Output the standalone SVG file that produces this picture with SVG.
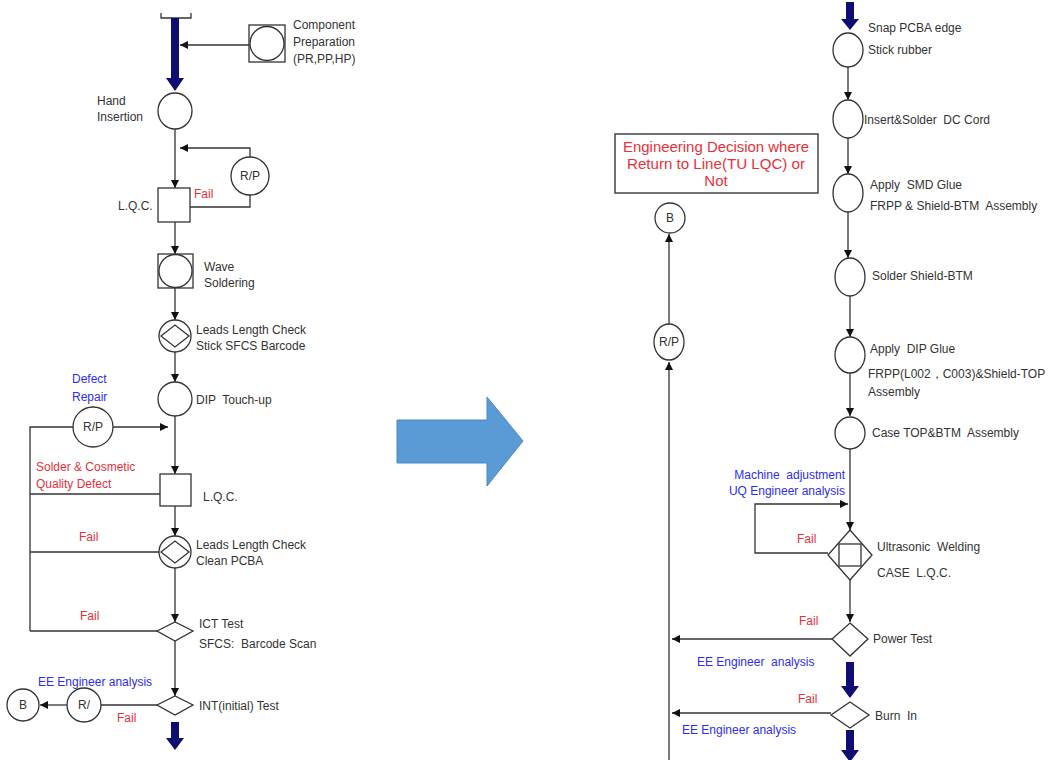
<svg xmlns="http://www.w3.org/2000/svg" width="1057" height="760" viewBox="0 0 1057 760">
<defs>
<marker id="ah" viewBox="0 0 10 10" refX="10" refY="5" markerWidth="8" markerHeight="8" markerUnits="userSpaceOnUse" orient="auto">
<path d="M0,0 L10,5 L0,10 z" fill="#111"/>
</marker>
</defs>
<style>
.s{fill:#fff;stroke:#333;stroke-width:1.3}
.c{fill:none;stroke:#333;stroke-width:1.3}
.a{fill:none;stroke:#333;stroke-width:1.3;marker-end:url(#ah)}
.t{font-family:"Liberation Sans",Arial,sans-serif;font-size:12px;fill:#333;white-space:pre}
.r{font-family:"Liberation Sans",Arial,sans-serif;font-size:12px;fill:#e8303a;white-space:pre}
.b{font-family:"Liberation Sans",Arial,sans-serif;font-size:12px;fill:#2d2df0;white-space:pre}
.d{font-family:"Liberation Sans",Arial,sans-serif;font-size:15px;fill:#e8303a}
.big{fill:#0d0d72}
</style>
<rect width="1057" height="760" fill="#fff"/>

<g id="connectors">
<path class="c" d="M161,13 V18 H191 V13"/>
<path class="a" d="M249,45 H180"/>
<path class="a" d="M175,129 V188"/>
<path class="a" d="M250,157 V148 H180"/>
<path class="c" d="M190,207 H250 V195"/>
<path class="a" d="M175,222 V254"/>
<path class="a" d="M175,288 V320"/>
<path class="a" d="M175,352 V382"/>
<path class="c" d="M30,631 V427 H73"/>
<path class="a" d="M113,427 H168"/>
<path class="a" d="M175,416 V474"/>
<path class="c" d="M160,494 H30"/>
<path class="a" d="M175,506 V536"/>
<path class="c" d="M159,552 H30"/>
<path class="a" d="M175,568 V622"/>
<path class="c" d="M157,631 H30"/>
<path class="a" d="M175,641 V696"/>
<path class="c" d="M157,705 H101"/>
<path class="a" d="M67,705 H40"/>

<path class="a" d="M848,67 V100"/>
<path class="a" d="M848,138 V174"/>
<path class="a" d="M848,212 V258"/>
<path class="a" d="M850,296 V337"/>
<path class="a" d="M850,373 V416"/>
<path class="a" d="M850,449 V530"/>
<path class="a" d="M828,553 H755 V504 H848"/>
<path class="a" d="M850,580 V622"/>
<path class="a" d="M832,639 H672"/>
<path class="a" d="M831,713 H672"/>
<path class="a" d="M669,760 V362"/>
<path class="a" d="M669,324 V234"/>

<path class="big" d="M171,18 H179 V78 H184 L175,91 L166,78 H171 z"/>
<path class="big" d="M171,722 H179 V738 H184 L175,750 L166,738 H171 z"/>
<path class="big" d="M846,2 H854 V19 H859 L850,30 L841,19 H846 z"/>
<path class="big" d="M846,662 H854 V686 H859 L850,698 L841,686 H846 z"/>
<path class="big" d="M846,730 H854 V750 H859 L850,762 L841,750 H846 z"/>
</g>

<g id="big-arrow">
<path d="M397,420 H487 V397 L523,441 L487,486 V463 H397 z" fill="#5b9bd5" stroke="#4a89c4" stroke-width="1"/>
</g>

<g id="component-prep">
<rect class="s" x="249" y="25" width="36" height="37"/>
<circle class="s" cx="267" cy="43.5" r="17"/>
<text class="t" x="293" y="29">Component</text>
<text class="t" x="293" y="46">Preparation</text>
<text class="t" x="293" y="63">(PR,PP,HP)</text>
</g>

<g id="hand-insertion">
<ellipse class="s" cx="175" cy="111" rx="17" ry="18"/>
<text class="t" x="97" y="105">Hand</text>
<text class="t" x="97" y="121">Insertion</text>
</g>

<g id="rp1">
<circle class="s" cx="250" cy="176" r="19"/>
<text class="t" x="250" y="180" text-anchor="middle">R/P</text>
</g>

<g id="lqc1">
<rect class="s" x="158" y="188" width="32" height="34"/>
<text class="t" x="118" y="210">L.Q.C.</text>
<text class="r" x="194" y="198">Fail</text>
</g>

<g id="wave">
<rect class="s" x="158" y="254" width="35" height="34"/>
<circle class="s" cx="175.5" cy="271" r="16.5"/>
<text class="t" x="204" y="271">Wave</text>
<text class="t" x="204" y="287">Soldering</text>
</g>

<g id="leads1">
<circle class="s" cx="175" cy="336" r="16"/>
<path class="c" d="M161,336 L175,325 L189,336 L175,347 z"/>
<text class="t" x="196" y="334">Leads Length Check</text>
<text class="t" x="196" y="350">Stick SFCS Barcode</text>
</g>

<g id="dip">
<circle class="s" cx="175" cy="399" r="17"/>
<text class="t" x="196" y="404">DIP  Touch-up</text>
</g>

<g id="rp2">
<circle class="s" cx="93" cy="427" r="20"/>
<text class="t" x="93" y="431" text-anchor="middle">R/P</text>
<text class="b" x="72" y="383">Defect</text>
<text class="b" x="72" y="401">Repair</text>
</g>

<g id="lqc2">
<rect class="s" x="160" y="474" width="31" height="32"/>
<text class="t" x="203" y="501">L.Q.C.</text>
<text class="r" x="36" y="471">Solder &amp; Cosmetic</text>
<text class="r" x="36" y="488">Quality Defect</text>
</g>

<g id="leads2">
<circle class="s" cx="175" cy="552" r="16"/>
<path class="c" d="M161,552 L175,541 L189,552 L175,563 z"/>
<text class="t" x="196" y="549">Leads Length Check</text>
<text class="t" x="196" y="565">Clean PCBA</text>
<text class="r" x="79" y="541">Fail</text>
</g>

<g id="ict">
<path class="s" d="M157,631 L175,622 L193,631 L175,641 z"/>
<text class="t" x="199" y="628">ICT Test</text>
<text class="t" x="199" y="648">SFCS:  Barcode Scan</text>
<text class="r" x="80" y="620">Fail</text>
</g>

<g id="int">
<path class="s" d="M157,705 L175,696 L193,705 L175,715 z"/>
<text class="t" x="199" y="710">INT(initial) Test</text>
<text class="b" x="38" y="686">EE Engineer analysis</text>
<text class="r" x="117" y="722">Fail</text>
</g>

<g id="r-left">
<circle class="s" cx="84" cy="705" r="17"/>
<text class="t" x="84" y="709" text-anchor="middle">R/</text>
</g>

<g id="b-left">
<circle class="s" cx="23" cy="705" r="16"/>
<text class="t" x="23" y="709" text-anchor="middle">B</text>
</g>

<g id="snap">
<ellipse class="s" cx="848" cy="50" rx="15" ry="17"/>
<text class="t" x="868" y="32">Snap PCBA edge</text>
<text class="t" x="868" y="54">Stick rubber</text>
</g>

<g id="insert">
<ellipse class="s" cx="848" cy="119" rx="15" ry="19"/>
<text class="t" x="864" y="124">Insert&amp;Solder  DC Cord</text>
</g>

<g id="smd">
<ellipse class="s" cx="848" cy="193" rx="15" ry="19"/>
<text class="t" x="870" y="189">Apply  SMD Glue</text>
<text class="t" x="870" y="210">FRPP &amp; Shield-BTM  Assembly</text>
</g>

<g id="decision">
<rect x="615" y="134" width="203" height="59" fill="#fff" stroke="#444" stroke-width="1.5"/>
<text class="d" x="716" y="152" text-anchor="middle" textLength="186" lengthAdjust="spacingAndGlyphs">Engineering Decision where</text>
<text class="d" x="716" y="169" text-anchor="middle" textLength="178" lengthAdjust="spacingAndGlyphs">Return to Line(TU LQC) or</text>
<text class="d" x="716" y="186" text-anchor="middle">Not</text>
</g>

<g id="b-right">
<circle class="s" cx="670" cy="218" r="15"/>
<text class="t" x="670" y="222" text-anchor="middle">B</text>
</g>

<g id="rp-right">
<ellipse class="s" cx="669" cy="342" rx="15" ry="18"/>
<text class="t" x="669" y="346" text-anchor="middle">R/P</text>
</g>

<g id="solder-btm">
<ellipse class="s" cx="850" cy="277" rx="15" ry="19"/>
<text class="t" x="872" y="280">Solder Shield-BTM</text>
</g>

<g id="dip-glue">
<ellipse class="s" cx="850" cy="355" rx="15" ry="18"/>
<text class="t" x="870" y="353">Apply  DIP Glue</text>
<text class="t" x="868" y="378">FRPP(L002，C003)&amp;Shield-TOP</text>
<text class="t" x="868" y="396">Assembly</text>
</g>

<g id="case">
<ellipse class="s" cx="850" cy="433" rx="15" ry="16"/>
<text class="t" x="872" y="437">Case TOP&amp;BTM  Assembly</text>
<text class="b" x="845" y="479" text-anchor="end">Machine  adjustment</text>
<text class="b" x="845" y="495" text-anchor="end">UQ Engineer analysis</text>
</g>

<g id="ultrasonic">
<path class="s" d="M850,530 L872,555 L850,580 L828,555 z"/>
<rect class="c" x="839" y="544" width="22" height="22"/>
<text class="t" x="877" y="551">Ultrasonic  Welding</text>
<text class="t" x="877" y="577">CASE  L.Q.C.</text>
<text class="r" x="797" y="543">Fail</text>
</g>

<g id="power">
<path class="s" d="M850,623 L868,639 L850,656 L832,639 z"/>
<text class="t" x="873" y="643">Power Test</text>
<text class="r" x="799" y="625">Fail</text>
<text class="b" x="697" y="666">EE Engineer  analysis</text>
</g>

<g id="burn">
<path class="s" d="M850,702 L869,715 L850,728 L831,715 z"/>
<text class="t" x="875" y="720">Burn  In</text>
<text class="r" x="798" y="703">Fail</text>
<text class="b" x="682" y="734">EE Engineer analysis</text>
</g>
</svg>
